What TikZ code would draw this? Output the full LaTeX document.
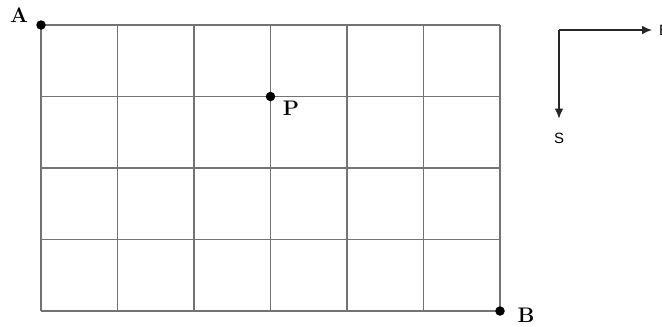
\documentclass[tikz,border=0pt]{standalone}
\usepackage{fontspec}
\setsansfont{Liberation Sans}
\usetikzlibrary{arrows.meta,positioning}

\begin{document}
\begin{tikzpicture}[
    x=0.02cm,y=-0.02cm,
    gridline/.style={draw=black!55,line width=0.6pt},
    dot/.style={circle,fill=black,inner sep=0pt,minimum size=0.19cm},
    pointlabel/.style={font=\bfseries\fontsize{12}{12}\selectfont,inner sep=1pt},
    dirlabel/.style={font=\sffamily\fontsize{8.5}{8.5}\selectfont,inner sep=1pt},
    arrow/.style={draw=black!85,line width=0.6pt,-{Latex[length=0.2cm,width=0.17cm]}}
]
    \useasboundingbox (0,0) rectangle (662,326);

    % grid, 6 by 4 blocks
    \foreach \i in {0,...,6}
        \draw[gridline] ({41+76.5*\i},25) -- ({41+76.5*\i},311);
    \foreach \j in {0,...,4}
        \draw[gridline] (41,{25+71.5*\j}) -- (500,{25+71.5*\j});

    \node[dot] (A) at (41,25) {};
    \node[dot] (P) at (270.5,96.5) {};
    \node[dot] (B) at (500,311) {};

    \node[pointlabel] (lblA) at (19,15) {A};
    \node[pointlabel] (lblP) at (291,108) {P};
    \node[pointlabel] (lblB) at (526,315) {B};

    % compass
    \coordinate (o) at (559,30);
    \node[dirlabel,anchor=west] (E) at (657,30) {E};
    \node[dirlabel] (S) at (559,138) {S};
    \draw[arrow,shorten >=0.1cm] (o) -- (E);
    \draw[arrow,shorten >=0.24cm] (o) -- (S);
\end{tikzpicture}
\end{document}
